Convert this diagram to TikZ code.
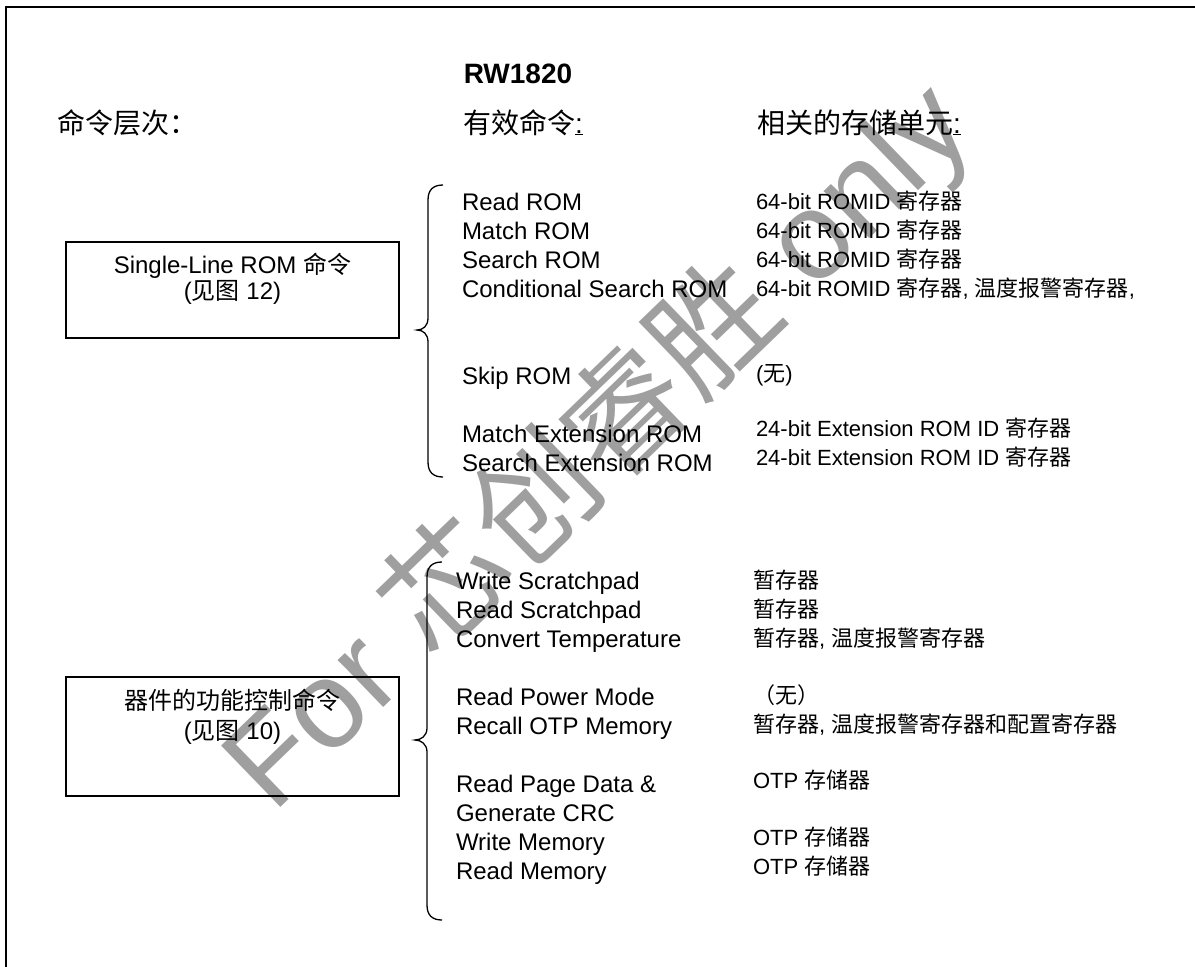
\documentclass[tikz,border=0pt]{standalone}
\usepackage{fontspec}
\setmainfont{Liberation Sans}
\newfontfamily\cjk{Noto Sans CJK SC}
\newcommand{\zh}[1]{{\cjk #1}}
\begin{document}
\begin{tikzpicture}[x=1pt,y=-1pt,
  every node/.style={inner sep=0pt, outer sep=0pt},
  lefttxt/.style={anchor=base west, font=\fontsize{24}{29}\selectfont},
  righttxt/.style={anchor=base west, font=\fontsize{22}{26}\selectfont},
  boxtxt/.style={anchor=base, font=\fontsize{24}{29}\selectfont},
  hdr/.style={anchor=base west, font=\fontsize{28}{32}\selectfont\cjk},
  cmdbox/.style={draw, line width=1.3pt, minimum width=333pt},
  brc/.style={line width=1.3pt},
  framel/.style={line width=2pt},
  wm/.style={text=gray!75, font=\fontsize{124}{124}\selectfont, rotate=44}
]
\useasboundingbox (0,0) rectangle (1195,967);

% watermark
\node[wm] (wmark) at (598,446) {For \zh{芯创睿胜} only};

% frame
\coordinate (fbl) at (6,967);
\coordinate (ftl) at (6,7);
\coordinate (ftr) at (1195,7);
\draw[framel] (fbl) -- (ftl) -- (ftr);

% title and headers
\node[anchor=base, font=\fontsize{28}{32}\selectfont\bfseries] (title) at (518,83) {RW1820};
\node[hdr] (h1) at (57,133) {命令层次：};
\node[hdr] (h2) at (463,133) {有效命令{\normalfont\underline{:}}};
\node[hdr] (h3) at (757,133) {相关的存储单元{\normalfont\underline{:}}};

% boxes
\node[cmdbox, minimum height=96pt] (box1) at (232.5,290) {};
\node[boxtxt] (box1a) at (232.5,273) {Single-Line ROM \zh{命令}};
\node[boxtxt] (box1b) at (232.5,299) {(\zh{见图} 12)};
\node[cmdbox, minimum height=119pt] (box2) at (232.5,736.5) {};
\node[boxtxt] (box2a) at (232.5,709) {\zh{器件的功能控制命令}};
\node[boxtxt] (box2b) at (232.5,739) {(\zh{见图} 10)};

% braces
\draw[brc] (443,185) .. controls (433,185) and (428,190) .. (428,200) -- (428,318)
  .. controls (428,326) and (423,330) .. (417,330)
  .. controls (423,330) and (428,334) .. (428,342) -- (428,462)
  .. controls (428,472) and (433,477) .. (443,477);
\draw[brc] (442,562) .. controls (432,562) and (427,567) .. (427,577) -- (427,728)
  .. controls (427,736) and (421,740) .. (415,740)
  .. controls (421,740) and (427,744) .. (427,752) -- (427,905)
  .. controls (427,915) and (432,920) .. (442,920);

% upper commands
\node[lefttxt] (c1) at (462,210) {Read ROM};
\node[lefttxt] (c2) at (462,239) {Match ROM};
\node[lefttxt] (c3) at (462,268) {Search ROM};
\node[lefttxt] (c4) at (462,297) {Conditional Search ROM};
\node[lefttxt] (c5) at (462,384) {Skip ROM};
\node[lefttxt] (c6) at (462,442) {Match Extension ROM};
\node[lefttxt] (c7) at (462,471) {Search Extension ROM};

\node[righttxt] (r1) at (756,209) {64-bit ROMID \zh{寄存器}};
\node[righttxt] (r2) at (756,238) {64-bit ROMID \zh{寄存器}};
\node[righttxt] (r3) at (756,267) {64-bit ROMID \zh{寄存器}};
\node[righttxt] (r4) at (756,296) {64-bit ROMID \zh{寄存器}, \zh{温度报警寄存器},};
\node[righttxt] (r5) at (756,381) {(\zh{无})};
\node[righttxt] (r6) at (756,436) {24-bit Extension ROM ID \zh{寄存器}};
\node[righttxt] (r7) at (756,465) {24-bit Extension ROM ID \zh{寄存器}};

% lower commands
\node[lefttxt] (d1) at (456,589) {Write Scratchpad};
\node[lefttxt] (d2) at (456,618) {Read Scratchpad};
\node[lefttxt] (d3) at (456,647) {Convert Temperature};
\node[lefttxt] (d4) at (456,705) {Read Power Mode};
\node[lefttxt] (d5) at (456,734) {Recall OTP Memory};
\node[lefttxt] (d6) at (456,792) {Read Page Data \&};
\node[lefttxt] (d7) at (456,821) {Generate CRC};
\node[lefttxt] (d8) at (456,850) {Write Memory};
\node[lefttxt] (d9) at (456,879) {Read Memory};

\node[righttxt] (s1) at (753,588) {\zh{暂存器}};
\node[righttxt] (s2) at (753,617) {\zh{暂存器}};
\node[righttxt] (s3) at (753,646) {\zh{暂存器}, \zh{温度报警寄存器}};
\node[righttxt] (s4) at (753,703) {\zh{（无）}};
\node[righttxt] (s5) at (753,732) {\zh{暂存器}, \zh{温度报警寄存器和配置寄存器}};
\node[righttxt] (s6) at (753,788) {OTP \zh{存储器}};
\node[righttxt] (s7) at (753,845) {OTP \zh{存储器}};
\node[righttxt] (s8) at (753,874) {OTP \zh{存储器}};
\end{tikzpicture}
\end{document}
